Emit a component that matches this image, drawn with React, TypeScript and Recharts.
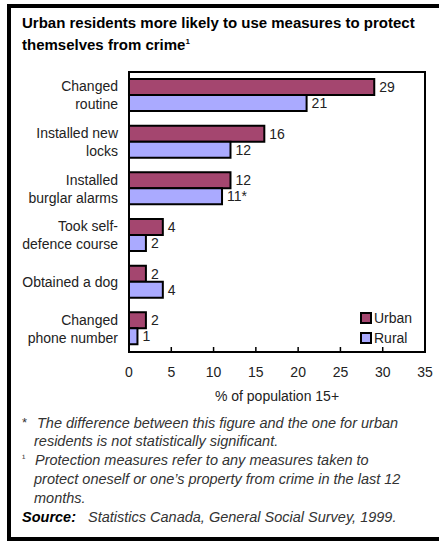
import React from "react";
import { BarChart, Bar, XAxis, YAxis, LabelList, Legend, ReferenceArea } from "recharts";

const categories = [
  "Changed\nroutine",
  "Installed new\nlocks",
  "Installed\nburglar alarms",
  "Took self-\ndefence course",
  "Obtained a dog",
  "Changed\nphone number",
];
const urban = [29, 16, 12, 4, 2, 2];
const rural = [21, 12, 11, 2, 4, 1];
const ruralNotes = ["", "", "*", "", "", ""];
const xTicks = [0, 5, 10, 15, 20, 25, 30, 35];
const seriesNames = ["Urban", "Rural"];

const title = [
  "Urban residents more likely to use measures to protect",
  "themselves from crime",
];
const axisTitle = "% of population 15+";
const footnotes = [
  { mark: "*", text: "The difference between this figure and the one for urban" },
  { mark: "", text: "residents is not statistically significant." },
  { mark: "\u00b9", text: "Protection measures refer to any measures taken to" },
  { mark: "", text: "protect oneself or one\u2019s property from crime in the last 12" },
  { mark: "", text: "months." },
];
const sourceText = "Statistics Canada, General Social Survey, 1999.";

const URBAN = "#A4466F";
const RURAL = "#AAAAFF";
const FONT = '"Liberation Sans", Arial, sans-serif';

const data = categories.map((c, i) => ({
  category: c,
  urban: urban[i],
  rural: rural[i],
  urbanLabel: String(urban[i]),
  ruralLabel: `${rural[i]}${ruralNotes[i]}`,
}));

const CategoryTick = (props: any) => {
  const { x, y, payload } = props;
  const lines = String(payload.value).split("\n");
  const offs = lines.length === 1 ? [0] : [-9, 9];
  return (
    <g>
      {lines.map((l, i) => (
        <text
          key={i}
          x={x}
          y={y + offs[i]}
          textAnchor="end"
          dominantBaseline="central"
          fontSize={14}
          fill="#222"
          fontFamily={FONT}
        >
          {l}
        </text>
      ))}
    </g>
  );
};

const ValueTick = (props: any) => {
  const { x, y, payload } = props;
  return (
    <g>
      <line x1={x} x2={x} y1={y} y2={y - 5} stroke="#000" strokeWidth={1.5} />
      <text
        x={x}
        y={y + 20}
        textAnchor="middle"
        dominantBaseline="central"
        fontSize={14}
        fill="#222"
        fontFamily={FONT}
      >
        {payload.value}
      </text>
    </g>
  );
};

const LegendContent = (props: any) => {
  const { payload } = props;
  const items = [...(payload || [])].sort(
    (a: any, b: any) => seriesNames.indexOf(a.value) - seriesNames.indexOf(b.value)
  );
  return (
    <div style={{ fontFamily: FONT }}>
      {items.map((e: any, i: number) => (
        <div key={i} style={{ display: "flex", alignItems: "center", height: 20 }}>
          <div
            style={{
              width: 8,
              height: 8,
              border: "2px solid #000",
              background: e.color,
              marginRight: 2,
            }}
          />
          <span style={{ fontSize: 14, color: "#222" }}>{e.value}</span>
        </div>
      ))}
    </div>
  );
};

export default function App() {
  return (
    <div
      style={{
        position: "absolute",
        left: 0,
        top: 0,
        width: 439,
        height: 542,
        overflow: "hidden",
        background: "#fff",
        fontFamily: FONT,
      }}
    >
      <div
        style={{
          position: "absolute",
          left: 7,
          top: 4,
          width: 460,
          height: 529,
          border: "4px solid #000",
        }}
      />
      {title.map((t, i) => (
        <div
          key={i}
          style={{
            position: "absolute",
            left: 22,
            top: 14 + i * 19,
            fontSize: 15,
            lineHeight: "18px",
            fontWeight: "bold",
            color: "#000",
            whiteSpace: "nowrap",
          }}
        >
          {t}
          {i === 1 && <sup style={{ fontSize: 8 }}>1</sup>}
        </div>
      ))}
      <div style={{ position: "absolute", left: 0, top: 0 }}>
        <BarChart
          width={439}
          height={420}
          data={data}
          layout="vertical"
          margin={{ top: 72, right: 14, bottom: 38, left: 10 }}
          barCategoryGap="15%"
          barGap={0}
        >
          <XAxis
            type="number"
            domain={[0, 35]}
            ticks={xTicks}
            interval={0}
            height={30}
            tickSize={0}
            tickMargin={0}
            tickLine={false}
            axisLine={{ stroke: "#000", strokeWidth: 2 }}
            tick={<ValueTick />}
          />
          <YAxis
            type="category"
            dataKey="category"
            width={119}
            tickSize={0}
            tickMargin={11}
            tickLine={false}
            axisLine={{ stroke: "#000", strokeWidth: 2 }}
            tick={<CategoryTick />}
          />
          <ReferenceArea
            x1={0}
            x2={35}
            fill="none"
            fillOpacity={0}
            stroke="#000"
            strokeWidth={2}
            ifOverflow="visible"
          />
          <Bar dataKey="urban" name="Urban" fill={URBAN} stroke="#000" strokeWidth={2} isAnimationActive={false}>
            <LabelList dataKey="urbanLabel" position="right" offset={5} fontSize={14} fill="#222" fontFamily={FONT} />
          </Bar>
          <Bar dataKey="rural" name="Rural" fill={RURAL} stroke="#000" strokeWidth={2} isAnimationActive={false}>
            <LabelList dataKey="ruralLabel" position="right" offset={5} fontSize={14} fill="#222" fontFamily={FONT} />
          </Bar>
          <Legend
            layout="vertical"
            verticalAlign="middle"
            align="center"
            content={<LegendContent />}
            wrapperStyle={{ position: "absolute", left: 360, top: 308, width: 70 }}
          />
        </BarChart>
      </div>
      <div
        style={{
          position: "absolute",
          left: 129,
          width: 296,
          top: 388,
          textAlign: "center",
          fontSize: 14,
          lineHeight: "16px",
          color: "#222",
        }}
      >
        {axisTitle}
      </div>
      {footnotes.map((f, i) => {
        const cy = [423, 441, 460, 479, 498][i];
        return (
          <div key={i} style={{ position: "absolute", top: cy - 8, left: 0, fontSize: 14.5, lineHeight: "16px", color: "#333", fontStyle: "italic", whiteSpace: "nowrap" }}>
            {f.mark && (
              <span
                style={{
                  position: "absolute",
                  left: 22,
                  top: f.mark === "*" ? 0 : -2,
                  fontSize: f.mark === "*" ? 13 : 10,
                  fontStyle: "normal",
                }}
              >
                {f.mark}
              </span>
            )}
            <span style={{ position: "absolute", left: i === 0 ? 37 : i === 2 ? 35 : 34 }}>{f.text}</span>
          </div>
        );
      })}
      <div style={{ position: "absolute", top: 509, left: 22, fontSize: 14.5, lineHeight: "16px", whiteSpace: "nowrap" }}>
        <span style={{ fontWeight: "bold", fontStyle: "italic", color: "#000" }}>Source:</span>
        <span style={{ position: "absolute", left: 66, fontStyle: "italic", color: "#333" }}>{sourceText}</span>
      </div>
    </div>
  );
}
